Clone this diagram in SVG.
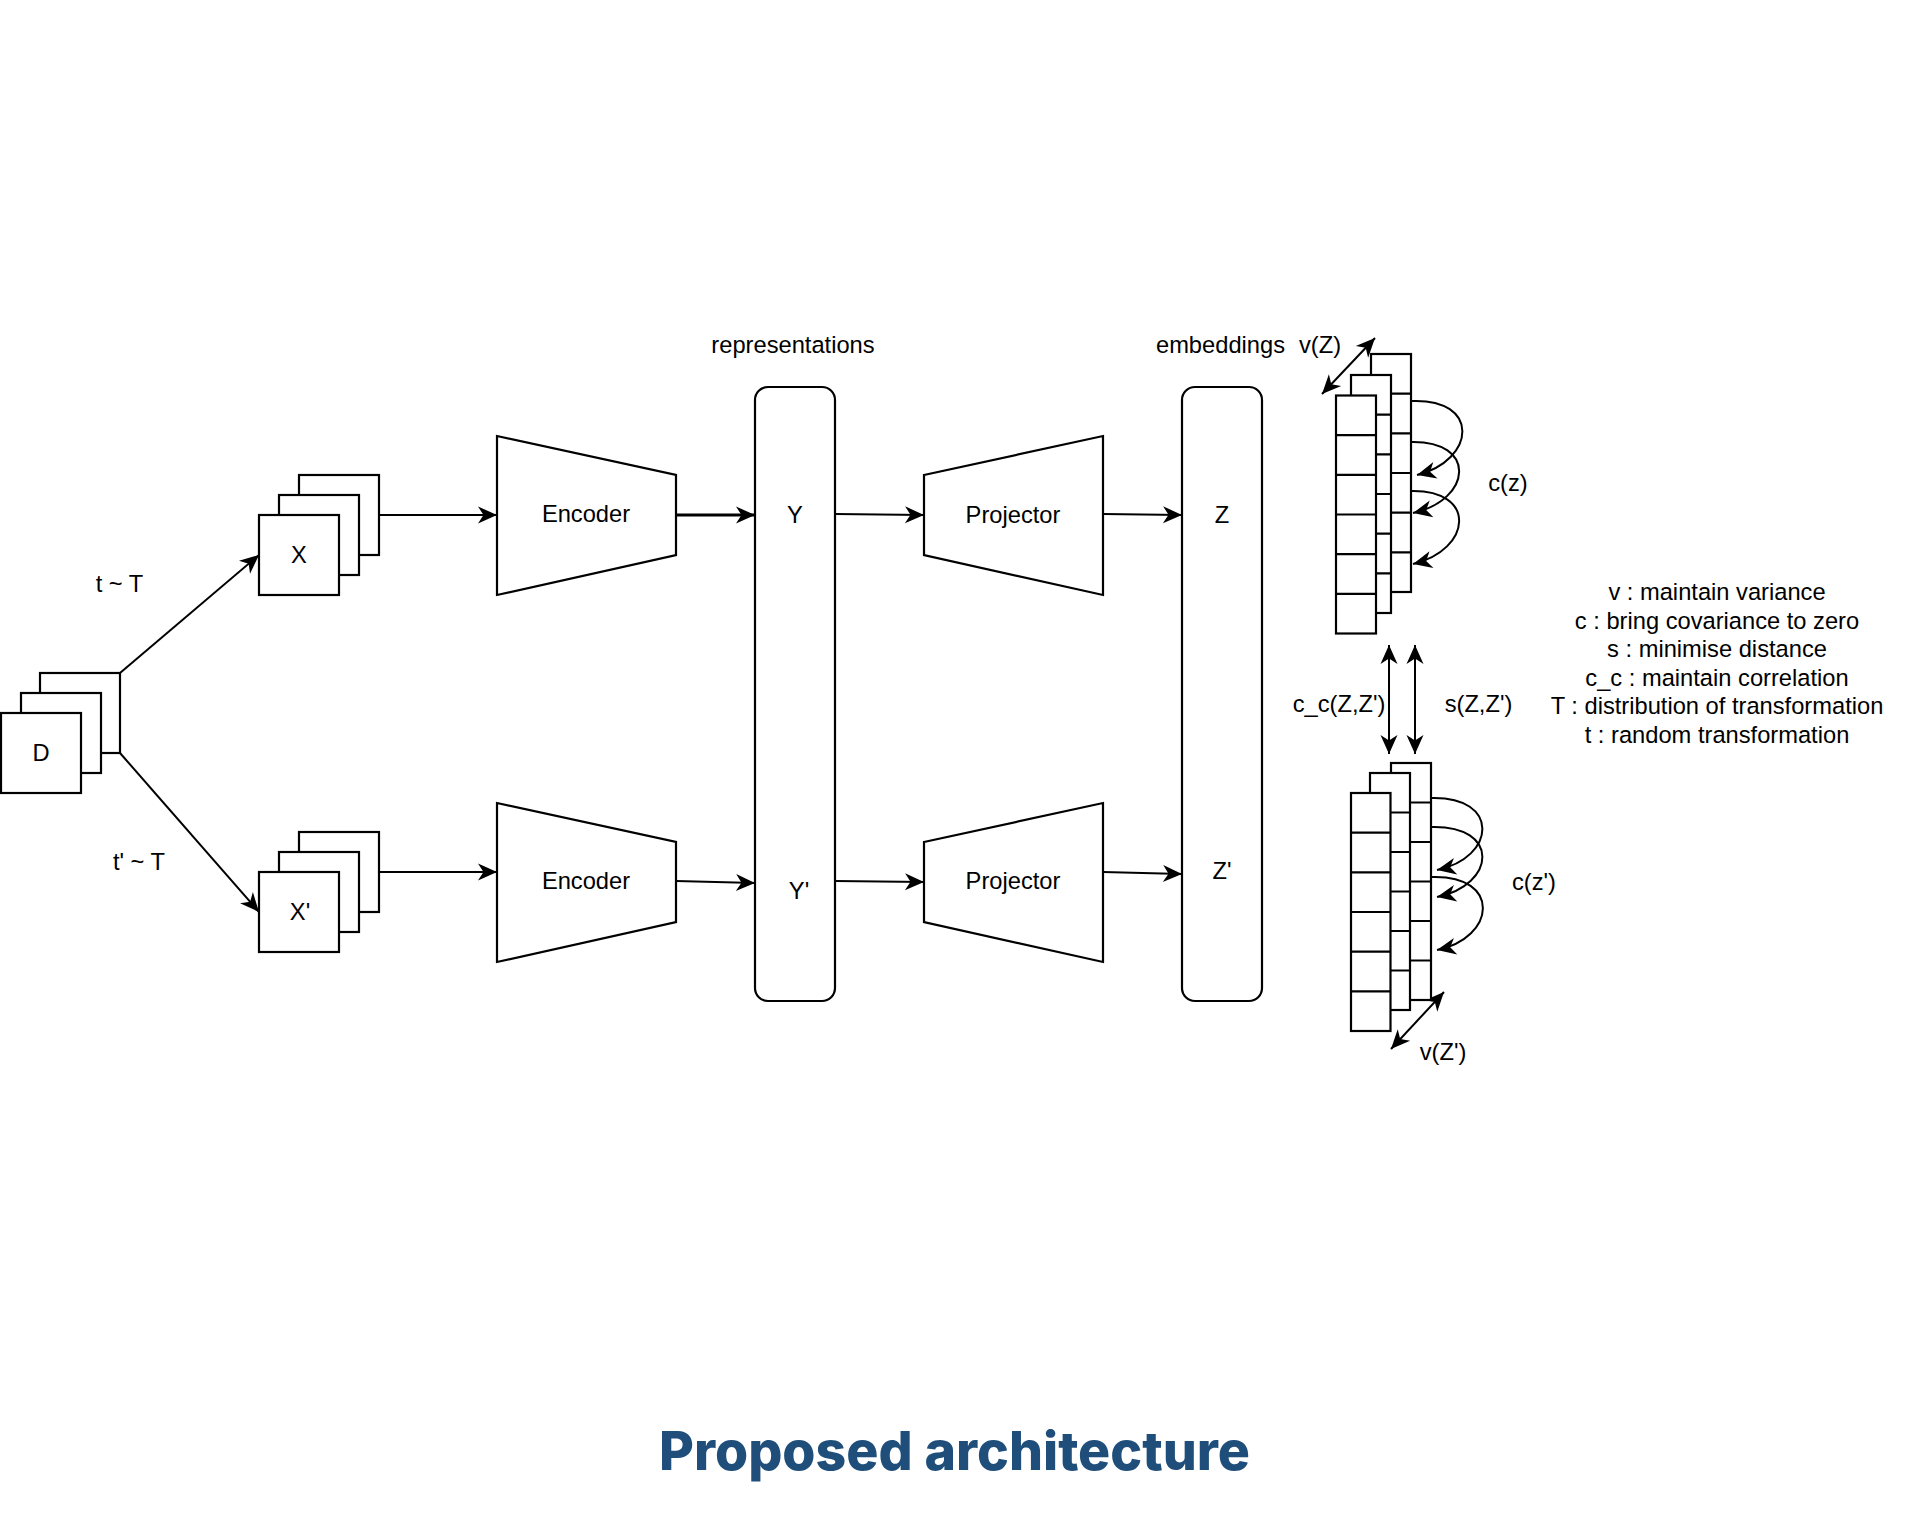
<svg xmlns="http://www.w3.org/2000/svg" width="1908" height="1534" viewBox="0 0 1908 1534">
<defs>
<style>
.s{fill:#fff;stroke:#000;stroke-width:2.2}
.c{fill:none;stroke:#000;stroke-width:2.2}
.e{fill:none;stroke:#000;stroke-width:2;marker-end:url(#ah)}
.d{fill:none;stroke:#000;stroke-width:2;marker-end:url(#ah);marker-start:url(#ah)}
.t{font-family:"Liberation Sans",Arial,sans-serif;font-size:23.7px;fill:#000;text-anchor:middle}
.ti{font-family:Inter,"Liberation Sans",sans-serif;font-weight:800;font-size:54px;fill:#1f4e7b}
</style>
<marker id="ah" viewBox="-20 -10 21 20" refX="0" refY="0" markerWidth="21" markerHeight="20" markerUnits="userSpaceOnUse" orient="auto-start-reverse">
<path d="M0,0 L-19,-8.5 L-13.5,0 L-19,8.5 Z" fill="#000"/>
</marker>
</defs>
<rect width="1908" height="1534" fill="#fff"/>

<g id="connectors">
<line class="e" x1="120" y1="673" x2="259" y2="555"/>
<line class="e" x1="120" y1="753" x2="259" y2="912"/>
<line class="e" x1="378" y1="515" x2="497" y2="515"/>
<line class="e" x1="378" y1="872" x2="497" y2="872"/>
<line class="e" x1="676" y1="515" x2="755" y2="515" style="stroke-width:2.8"/>
<line class="e" x1="676" y1="881" x2="755" y2="883"/>
<line class="e" x1="835" y1="514" x2="924" y2="515"/>
<line class="e" x1="835" y1="881" x2="924" y2="882"/>
<line class="e" x1="1103" y1="514" x2="1182" y2="515"/>
<line class="e" x1="1103" y1="872" x2="1182" y2="874"/>
<line class="d" x1="1322" y1="394" x2="1375" y2="338"/>
<line class="d" x1="1391" y1="1049" x2="1444" y2="992"/>
<line class="d" x1="1389" y1="645" x2="1389" y2="754"/>
<line class="d" x1="1415" y1="645" x2="1415" y2="754"/>
<path class="e" d="M1411,401 C1481,398 1476,460 1417,475"/>
<path class="e" d="M1410,442 C1478,440 1472,500 1413,513"/>
<path class="e" d="M1410,491 C1478,489 1472,550 1413,564"/>
<path class="e" d="M1431,798 C1501,796 1496,858 1437,870"/>
<path class="e" d="M1431,827 C1501,825 1496,885 1437,897"/>
<path class="e" d="M1432,877 C1502,875 1496,938 1437,950"/>
</g>

<g id="node-D">
<rect class="s" x="40" y="673" width="80" height="80"/>
<rect class="s" x="21" y="693" width="80" height="80"/>
<rect class="s" x="1" y="713" width="80" height="80"/>
<text class="t" x="41" y="761">D</text>
</g>

<g id="node-X">
<rect class="s" x="299" y="475" width="80" height="80"/>
<rect class="s" x="279" y="495" width="80" height="80"/>
<rect class="s" x="259" y="515" width="80" height="80"/>
<text class="t" x="299" y="563">X</text>
</g>

<g id="node-Xp">
<rect class="s" x="299" y="832" width="80" height="80"/>
<rect class="s" x="279" y="852" width="80" height="80"/>
<rect class="s" x="259" y="872" width="80" height="80"/>
<text class="t" x="300" y="920">X'</text>
</g>

<g id="node-encoder-top">
<polygon class="s" points="497,436 676,475 676,555 497,595"/>
<text class="t" x="586" y="522">Encoder</text>
</g>
<g id="node-encoder-bottom">
<polygon class="s" points="497,803 676,842 676,922 497,962"/>
<text class="t" x="586" y="889">Encoder</text>
</g>

<g id="node-representations">
<rect class="s" x="755" y="387" width="80" height="614" rx="13"/>
<text class="t" x="795" y="523">Y</text>
<text class="t" x="799" y="899">Y'</text>
</g>

<g id="node-projector-top">
<polygon class="s" points="924,475 1103,436 1103,595 924,555"/>
<text class="t" x="1013" y="523">Projector</text>
</g>
<g id="node-projector-bottom">
<polygon class="s" points="924,842 1103,803 1103,962 924,922"/>
<text class="t" x="1013" y="889">Projector</text>
</g>

<g id="node-embeddings">
<rect class="s" x="1182" y="387" width="80" height="614" rx="13"/>
<text class="t" x="1222" y="523">Z</text>
<text class="t" x="1222" y="879">Z'</text>
</g>

<g id="node-Z-stack">
<rect class="s" x="1371" y="354" width="40" height="238"/>
<path class="c" d="M1371,393.7H1411M1371,433.3H1411M1371,473H1411M1371,512.7H1411M1371,552.3H1411"/>
<rect class="s" x="1351" y="375" width="40" height="238"/>
<path class="c" d="M1351,414.7H1391M1351,454.3H1391M1351,494H1391M1351,533.7H1391M1351,573.3H1391"/>
<rect class="s" x="1336" y="395.5" width="40" height="238"/>
<path class="c" d="M1336,435.2H1376M1336,474.8H1376M1336,514.5H1376M1336,554.2H1376M1336,593.8H1376"/>
</g>

<g id="node-Zp-stack">
<rect class="s" x="1391" y="763" width="40" height="237"/>
<path class="c" d="M1391,802.5H1431M1391,842H1431M1391,881.5H1431M1391,921H1431M1391,960.5H1431"/>
<rect class="s" x="1370" y="773" width="40" height="237"/>
<path class="c" d="M1370,812.5H1410M1370,852H1410M1370,891.5H1410M1370,931H1410M1370,970.5H1410"/>
<rect class="s" x="1351" y="793" width="39.5" height="238"/>
<path class="c" d="M1351,832.7H1390.5M1351,872.3H1390.5M1351,912H1390.5M1351,951.7H1390.5M1351,991.3H1390.5"/>
</g>

<g id="labels">
<text class="t" x="119.5" y="592">t ~ T</text>
<text class="t" x="139" y="870">t' ~ T</text>
<text class="t" x="793" y="353">representations</text>
<text class="t" x="1220.5" y="353">embeddings</text>
<text class="t" x="1320" y="353">v(Z)</text>
<text class="t" x="1508" y="491">c(z)</text>
<text class="t" x="1534" y="890">c(z')</text>
<text class="t" x="1339" y="712">c_c(Z,Z')</text>
<text class="t" x="1478.5" y="712">s(Z,Z')</text>
<text class="t" x="1443" y="1060">v(Z')</text>
</g>

<g id="legend">
<text class="t" x="1717" y="600">v : maintain variance</text>
<text class="t" x="1717" y="628.6">c : bring covariance to zero</text>
<text class="t" x="1717" y="657.2">s : minimise distance</text>
<text class="t" x="1717" y="685.8">c_c : maintain correlation</text>
<text class="t" x="1717" y="714.4">T : distribution of transformation</text>
<text class="t" x="1717" y="743">t : random transformation</text>
</g>

<g id="title">
<text class="ti" x="659" y="1470" textLength="591" lengthAdjust="spacingAndGlyphs">Proposed architecture</text>
</g>
</svg>
